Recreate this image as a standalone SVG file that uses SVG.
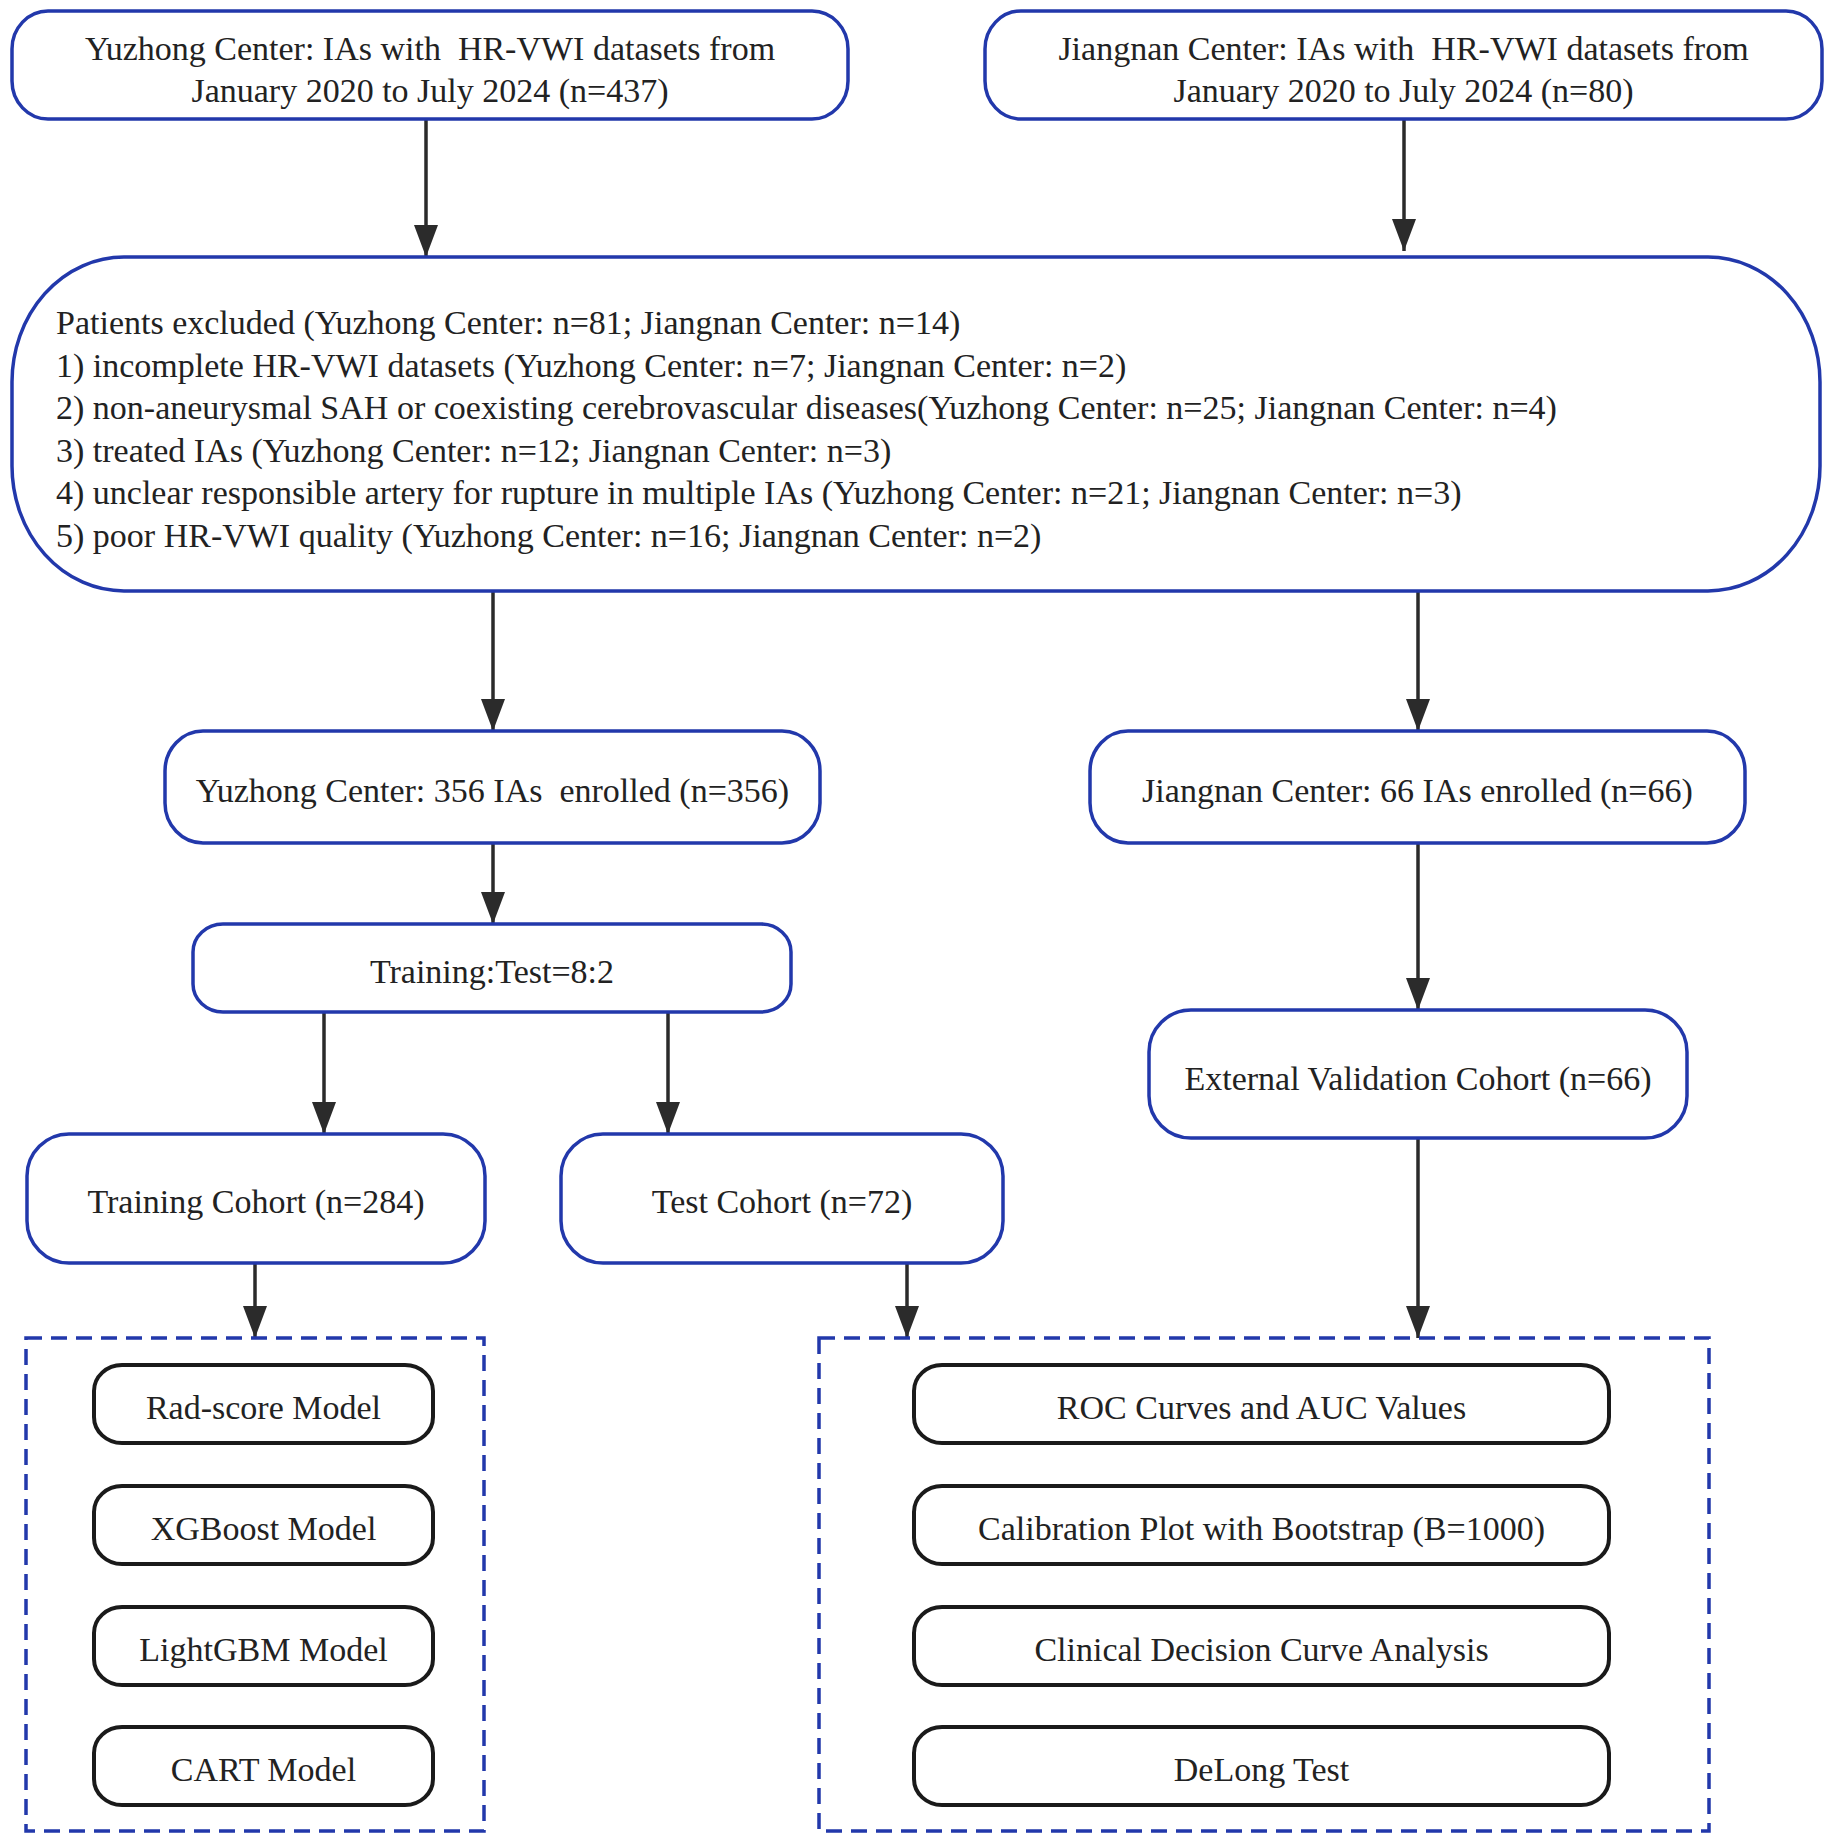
<svg xmlns="http://www.w3.org/2000/svg" width="1834" height="1843" viewBox="0 0 1834 1843">
<defs>
<marker id="ah" markerUnits="userSpaceOnUse" markerWidth="34" markerHeight="26" refX="32" refY="12" orient="auto">
<path d="M0,0 L32,12 L0,24 z" fill="#2b2b2b"/>
</marker>
<style>
.b{fill:#fff;stroke:#2238ab;stroke-width:3.5}
.k{fill:#fff;stroke:#1a1a1a;stroke-width:4}
.d{fill:none;stroke:#2238ab;stroke-width:3.5;stroke-dasharray:16 9}
.t{font-family:"Liberation Serif","Times New Roman",serif;font-size:34px;fill:#222}
.c{text-anchor:middle}
.a{stroke:#2b2b2b;stroke-width:3.5;fill:none;marker-end:url(#ah)}
</style>
</defs>
<rect width="1834" height="1843" fill="#fff"/>
<g id="connectors">
<line class="a" x1="426" y1="119" x2="426" y2="257"/>
<line class="a" x1="1404" y1="119" x2="1404" y2="251"/>
<line class="a" x1="493" y1="591" x2="493" y2="731"/>
<line class="a" x1="1418" y1="591" x2="1418" y2="731"/>
<line class="a" x1="493" y1="843" x2="493" y2="924"/>
<line class="a" x1="324" y1="1012" x2="324" y2="1134"/>
<line class="a" x1="668" y1="1012" x2="668" y2="1134"/>
<line class="a" x1="1418" y1="843" x2="1418" y2="1010"/>
<line class="a" x1="255" y1="1263" x2="255" y2="1338"/>
<line class="a" x1="907" y1="1263" x2="907" y2="1338"/>
<line class="a" x1="1418" y1="1138" x2="1418" y2="1338"/>
</g>
<g id="yuzhong-source">
<rect class="b" x="12" y="11" width="836" height="108" rx="36" ry="38"/>
<text class="t c" x="430" y="60" xml:space="preserve">Yuzhong Center: IAs with  HR-VWI datasets from</text>
<text class="t c" x="430" y="101.5">January 2020 to July 2024 (n=437)</text>
</g>
<g id="jiangnan-source">
<rect class="b" x="985" y="11" width="837" height="108" rx="36" ry="38"/>
<text class="t c" x="1403.5" y="60" xml:space="preserve">Jiangnan Center: IAs with  HR-VWI datasets from</text>
<text class="t c" x="1403.5" y="101.5">January 2020 to July 2024 (n=80)</text>
</g>
<g id="excluded">
<rect class="b" x="12" y="257" width="1808" height="334" rx="112" ry="125"/>
<text class="t" x="56" y="334">Patients excluded (Yuzhong Center: n=81; Jiangnan Center: n=14)</text>
<text class="t" x="56" y="376.5">1) incomplete HR-VWI datasets (Yuzhong Center: n=7; Jiangnan Center: n=2)</text>
<text class="t" x="56" y="419">2) non-aneurysmal SAH or coexisting cerebrovascular diseases(Yuzhong Center: n=25; Jiangnan Center: n=4)</text>
<text class="t" x="56" y="461.5">3) treated IAs (Yuzhong Center: n=12; Jiangnan Center: n=3)</text>
<text class="t" x="56" y="504">4) unclear responsible artery for rupture in multiple IAs (Yuzhong Center: n=21; Jiangnan Center: n=3)</text>
<text class="t" x="56" y="546.5">5) poor HR-VWI quality (Yuzhong Center: n=16; Jiangnan Center: n=2)</text>
</g>
<g id="yuzhong-enrolled">
<rect class="b" x="165" y="731" width="655" height="112" rx="38" ry="40"/>
<text class="t c" x="492.5" y="801.5" xml:space="preserve">Yuzhong Center: 356 IAs  enrolled (n=356)</text>
</g>
<g id="jiangnan-enrolled">
<rect class="b" x="1090" y="731" width="655" height="112" rx="38" ry="40"/>
<text class="t c" x="1417.5" y="801.5">Jiangnan Center: 66 IAs enrolled (n=66)</text>
</g>
<g id="split">
<rect class="b" x="193" y="924" width="598" height="88" rx="30" ry="28"/>
<text class="t c" x="492" y="982.5">Training:Test=8:2</text>
</g>
<g id="training-cohort">
<rect class="b" x="27" y="1134" width="458" height="129" rx="42" ry="42"/>
<text class="t c" x="256" y="1212.5">Training Cohort (n=284)</text>
</g>
<g id="test-cohort">
<rect class="b" x="561" y="1134" width="442" height="129" rx="42" ry="42"/>
<text class="t c" x="782" y="1212.5">Test Cohort (n=72)</text>
</g>
<g id="external-cohort">
<rect class="b" x="1149" y="1010" width="538" height="128" rx="42" ry="42"/>
<text class="t c" x="1418" y="1089.5">External Validation Cohort (n=66)</text>
</g>
<g id="models">
<rect class="d" x="26" y="1338" width="458" height="493"/>
<g id="rad-score"><rect class="k" x="94" y="1365" width="339" height="78" rx="28" ry="26"/><text class="t c" x="263.5" y="1418.5">Rad-score Model</text></g>
<g id="xgboost"><rect class="k" x="94" y="1486" width="339" height="78" rx="28" ry="26"/><text class="t c" x="263.5" y="1539.5">XGBoost Model</text></g>
<g id="lightgbm"><rect class="k" x="94" y="1607" width="339" height="78" rx="28" ry="26"/><text class="t c" x="263.5" y="1660.5">LightGBM Model</text></g>
<g id="cart"><rect class="k" x="94" y="1727" width="339" height="78" rx="28" ry="26"/><text class="t c" x="263.5" y="1780.5">CART Model</text></g>
</g>
<g id="evaluation">
<rect class="d" x="819" y="1338" width="890" height="493"/>
<g id="roc"><rect class="k" x="914" y="1365" width="695" height="78" rx="28" ry="26"/><text class="t c" x="1261.5" y="1418.5">ROC Curves and AUC Values</text></g>
<g id="calibration"><rect class="k" x="914" y="1486" width="695" height="78" rx="28" ry="26"/><text class="t c" x="1261.5" y="1539.5">Calibration Plot with Bootstrap (B=1000)</text></g>
<g id="dca"><rect class="k" x="914" y="1607" width="695" height="78" rx="28" ry="26"/><text class="t c" x="1261.5" y="1660.5">Clinical Decision Curve Analysis</text></g>
<g id="delong"><rect class="k" x="914" y="1727" width="695" height="78" rx="28" ry="26"/><text class="t c" x="1261.5" y="1780.5">DeLong Test</text></g>
</g>
</svg>
